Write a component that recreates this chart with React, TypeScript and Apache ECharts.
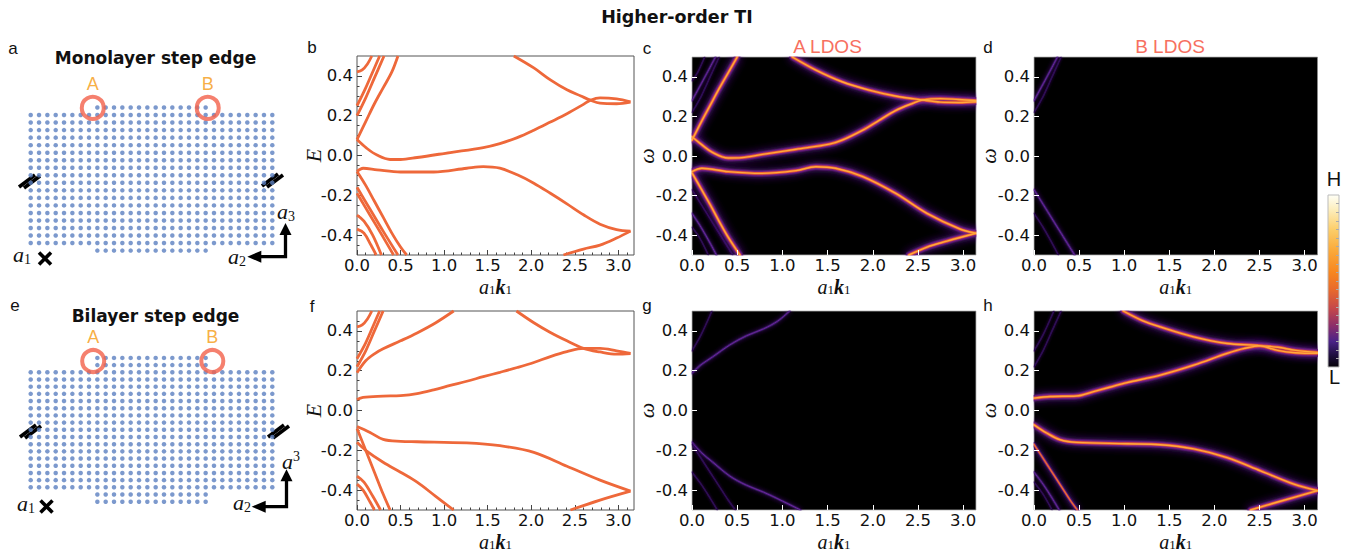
import React, { useEffect, useRef } from "react";
import * as echarts from "echarts";

type Pt = [number, number];

const SANS = "DejaVu Sans";
const LSANS = "Liberation Sans";
const SERIF = "Liberation Serif";

// ===== tick values =====
const kTickValues = [0, 0.5, 1.0, 1.5, 2.0, 2.5, 3.0];
const kMinorTickValues = [0.1, 0.2, 0.3, 0.4, 0.6, 0.7, 0.8, 0.9, 1.1, 1.2, 1.3, 1.4, 1.6, 1.7, 1.8, 1.9, 2.1, 2.2, 2.3, 2.4, 2.6, 2.7, 2.8, 2.9, 3.1];
const eTickValues = [-0.4, -0.2, 0.0, 0.2, 0.4];
const eMinorTickValues = [-0.45, -0.35, -0.3, -0.25, -0.15, -0.1, -0.05, 0.05, 0.1, 0.15, 0.25, 0.3, 0.35, 0.45];
const colorbarTickValues = [0.05, 0.1, 0.15, 0.2, 0.25, 0.3, 0.35, 0.4, 0.45, 0.5, 0.55, 0.6, 0.65, 0.7, 0.75, 0.8, 0.85, 0.9, 0.95];

// ===== lattice (panels a, e) : column / row index ranges =====
const latticeCols = [0, 29];
const stepCols = [8, 21];
const monoMainRows = [0, 17];
const monoStepRows = [-1, 18];
const biMainRows = [0, 16];
const biStepRows = [-2, -1, 17, 18];
const monoSites = [
  { name: "A", col: 7.45, row: -0.95 },
  { name: "B", col: 21.25, row: -0.95 },
];
const biSites = [
  { name: "A", col: 7.5, row: -1.57 },
  { name: "B", col: 21.8, row: -1.57 },
];

// ===== band structure, monolayer (panel b) : [a1k1, E] =====
const bandMonoUpperEdge: Pt[] = [[0, 0.08], [0.11, 0.037], [0.23, 0.002], [0.38, -0.02], [0.5, -0.02], [0.69, -0.01], [1.07, 0.015], [1.45, 0.04], [1.64, 0.06], [1.84, 0.09], [2.03, 0.127], [2.22, 0.168], [2.41, 0.21], [2.6, 0.257], [2.68, 0.278], [2.79, 0.29], [2.98, 0.285], [3.14, 0.27]];
const bandMonoUpperBranch: Pt[] = [[1.8, 0.5], [2.03, 0.44], [2.22, 0.38], [2.41, 0.33], [2.57, 0.299], [2.68, 0.278], [2.79, 0.263], [2.98, 0.26], [3.14, 0.268]];
const bandMonoLowerEdge: Pt[] = [[0, -0.08], [0.07, -0.064], [0.23, -0.072], [0.5, -0.083], [0.88, -0.083], [1.26, -0.064], [1.45, -0.056], [1.64, -0.064], [1.84, -0.097], [2.03, -0.139], [2.22, -0.19], [2.41, -0.243], [2.6, -0.298], [2.79, -0.345], [2.98, -0.372], [3.14, -0.38]];
const bandMonoLowerBranch: Pt[] = [[2.37, -0.5], [2.6, -0.47], [2.79, -0.45], [2.98, -0.415], [3.14, -0.38]];
const bandMonoBulkUp1: Pt[] = [[0, 0.08], [0.1, 0.17], [0.2, 0.26], [0.3, 0.34], [0.4, 0.42], [0.47, 0.5]];
const bandMonoBulkUp2: Pt[] = [[0, 0.2], [0.1, 0.29], [0.2, 0.39], [0.31, 0.5]];
const bandMonoBulkUp3: Pt[] = [[0, 0.25], [0.1, 0.34], [0.2, 0.44], [0.26, 0.5]];
const bandMonoBulkUp4: Pt[] = [[0, 0.42], [0.06, 0.43], [0.12, 0.46], [0.17, 0.5]];
const bandMonoBulkDown1: Pt[] = [[0, -0.08], [0.1, -0.15], [0.2, -0.23], [0.3, -0.31], [0.4, -0.39], [0.5, -0.46], [0.57, -0.5]];
const bandMonoBulkDown2: Pt[] = [[0, -0.16], [0.15, -0.27], [0.3, -0.38], [0.47, -0.5]];
const bandMonoBulkDown3: Pt[] = [[0, -0.19], [0.15, -0.3], [0.3, -0.41], [0.42, -0.5]];
const bandMonoBulkDown4: Pt[] = [[0, -0.3], [0.08, -0.33], [0.18, -0.4], [0.28, -0.5]];
const bandMonoBulkDown5: Pt[] = [[0, -0.37], [0.08, -0.39], [0.16, -0.45], [0.22, -0.5]];

// ===== band structure, bilayer (panel f) =====
const bandBiUpperEdge: Pt[] = [[0, 0.055], [0.07, 0.066], [0.3, 0.072], [0.5, 0.075], [0.69, 0.085], [0.88, 0.104], [1.07, 0.126], [1.26, 0.147], [1.45, 0.17], [1.64, 0.192], [1.84, 0.216], [2.03, 0.241], [2.22, 0.271], [2.41, 0.296], [2.6, 0.312], [2.79, 0.312], [2.98, 0.3], [3.14, 0.287]];
const bandBiUpperBranch: Pt[] = [[1.83, 0.5], [2.03, 0.441], [2.22, 0.392], [2.41, 0.35], [2.6, 0.312], [2.79, 0.294], [2.98, 0.283], [3.14, 0.286]];
const bandBiLowerEdge: Pt[] = [[0, -0.08], [0.08, -0.095], [0.15, -0.11], [0.3, -0.145], [0.5, -0.155], [0.69, -0.157], [1.26, -0.163], [1.64, -0.177], [2.03, -0.21], [2.41, -0.28], [2.79, -0.35], [3.14, -0.405]];
const bandBiLowerBranch: Pt[] = [[2.45, -0.5], [2.79, -0.45], [3.14, -0.405]];
const bandBiBulkUp1: Pt[] = [[0, 0.19], [0.1, 0.25], [0.2, 0.285], [0.3, 0.31], [0.5, 0.35], [0.69, 0.39], [0.9, 0.44], [1.11, 0.5]];
const bandBiBulkUp2: Pt[] = [[0, 0.22], [0.1, 0.3], [0.2, 0.4], [0.3, 0.5]];
const bandBiBulkUp3: Pt[] = [[0, 0.26], [0.1, 0.34], [0.2, 0.44], [0.26, 0.5]];
const bandBiBulkUp4: Pt[] = [[0, 0.42], [0.06, 0.43], [0.12, 0.46], [0.17, 0.5]];
const bandBiBulkDown1: Pt[] = [[0, -0.16], [0.1, -0.2], [0.3, -0.26], [0.5, -0.31], [0.69, -0.36], [0.9, -0.43], [1.11, -0.5]];
const bandBiBulkDown2: Pt[] = [[0, -0.09], [0.1, -0.2], [0.2, -0.31], [0.3, -0.42], [0.38, -0.5]];
const bandBiBulkDown3: Pt[] = [[0, -0.33], [0.08, -0.36], [0.18, -0.43], [0.27, -0.5]];
const bandBiBulkDown4: Pt[] = [[0, -0.37], [0.07, -0.4], [0.15, -0.46], [0.2, -0.5]];

// ===== LDOS ridges, monolayer (panels c, d) : [a1k1, omega] =====
const ldosMonoUpperEdge: Pt[] = [[0, 0.097], [0.1, 0.06], [0.22, 0.02], [0.4, -0.01], [0.55, -0.008], [0.78, 0.008], [1.15, 0.034], [1.52, 0.06], [1.66, 0.08], [1.89, 0.131], [2.07, 0.18], [2.25, 0.229], [2.44, 0.266], [2.55, 0.283], [2.75, 0.29], [2.95, 0.285], [3.1416, 0.28]];
const ldosMonoUpperBranch: Pt[] = [[1.11, 0.5], [1.37, 0.434], [1.66, 0.375], [1.96, 0.333], [2.25, 0.303], [2.55, 0.283], [2.75, 0.272], [2.95, 0.27], [3.1416, 0.274]];
const ldosMonoLowerEdge: Pt[] = [[0, -0.079], [0.11, -0.062], [0.4, -0.079], [0.77, -0.088], [1.15, -0.074], [1.37, -0.054], [1.59, -0.062], [1.89, -0.104], [2.25, -0.188], [2.6, -0.29], [2.97, -0.37], [3.1416, -0.39]];
const ldosMonoLowerBranch: Pt[] = [[2.4, -0.5], [2.6, -0.46], [2.82, -0.43], [3.1416, -0.39]];
const ldosMonoBulkUp1: Pt[] = [[0, 0.08], [0.1, 0.17], [0.2, 0.255], [0.3, 0.34], [0.4, 0.42], [0.5, 0.5]];
const ldosMonoBulkUp2: Pt[] = [[0, 0.28], [0.12, 0.38], [0.26, 0.5]];
const ldosMonoBulkUp3: Pt[] = [[0, 0.22], [0.1, 0.3], [0.2, 0.4], [0.3, 0.5]];
const ldosMonoBulkUp4: Pt[] = [[0, 0.38], [0.06, 0.42], [0.14, 0.5]];
const ldosMonoBulkDown1: Pt[] = [[0, -0.085], [0.1, -0.165], [0.2, -0.245], [0.3, -0.33], [0.4, -0.41], [0.53, -0.5]];
const ldosMonoBulkDown2: Pt[] = [[0, -0.17], [0.15, -0.28], [0.3, -0.39], [0.45, -0.5]];
const ldosMonoBulkDown3: Pt[] = [[0, -0.29], [0.1, -0.36], [0.2, -0.44], [0.27, -0.5]];
const ldosMonoBulkDown4: Pt[] = [[0, -0.36], [0.08, -0.41], [0.18, -0.5]];

// ===== LDOS ridges, bilayer (panels g, h) =====
const ldosBiUpperEdge: Pt[] = [[0, 0.062], [0.18, 0.07], [0.47, 0.073], [0.66, 0.095], [0.84, 0.117], [1.03, 0.14], [1.4, 0.178], [1.77, 0.228], [2.14, 0.287], [2.33, 0.312], [2.51, 0.325], [2.7, 0.318], [2.9, 0.302], [3.1416, 0.292]];
const ldosBiUpperBranch: Pt[] = [[0.99, 0.5], [1.2, 0.452], [1.4, 0.42], [1.77, 0.37], [2.14, 0.337], [2.51, 0.325], [2.7, 0.302], [2.9, 0.29], [3.1416, 0.287]];
const ldosBiLowerEdge: Pt[] = [[0, -0.072], [0.14, -0.113], [0.29, -0.147], [0.47, -0.16], [1.03, -0.167], [1.4, -0.172], [1.77, -0.193], [2.14, -0.237], [2.51, -0.303], [2.88, -0.37], [3.1416, -0.403]];
const ldosBiLowerBranch: Pt[] = [[2.4, -0.5], [2.7, -0.46], [3.1416, -0.403]];
const ldosBiBulkUp1: Pt[] = [[0, 0.187], [0.1, 0.23], [0.23, 0.27], [0.42, 0.33], [0.6, 0.375], [0.79, 0.41], [0.95, 0.45], [1.08, 0.5]];
const ldosBiBulkUp2: Pt[] = [[0, 0.22], [0.1, 0.3], [0.2, 0.4], [0.3, 0.5]];
const ldosBiBulkUp3: Pt[] = [[0, 0.3], [0.1, 0.38], [0.22, 0.5]];
const ldosBiBulkDown1: Pt[] = [[0, -0.16], [0.1, -0.21], [0.23, -0.26], [0.42, -0.33], [0.6, -0.375], [0.79, -0.41], [1.0, -0.455], [1.2, -0.5]];
const ldosBiBulkDown2: Pt[] = [[0, -0.17], [0.1, -0.24], [0.2, -0.31], [0.3, -0.38], [0.4, -0.45], [0.48, -0.5]];
const ldosBiBulkDown3: Pt[] = [[0, -0.31], [0.1, -0.37], [0.2, -0.44], [0.28, -0.5]];
const ldosBiBulkDown4: Pt[] = [[0, -0.36], [0.1, -0.42], [0.2, -0.5]];

// ===== LDOS intensity of each ridge per panel (0..1) =====
const panelC = [
  { pts: ldosMonoUpperEdge, level: 1 }, { pts: ldosMonoUpperBranch, level: 1 },
  { pts: ldosMonoLowerEdge, level: 1 }, { pts: ldosMonoLowerBranch, level: 1 },
  { pts: ldosMonoBulkUp1, level: 0.9 }, { pts: ldosMonoBulkDown1, level: 0.9 },
  { pts: ldosMonoBulkUp2, level: 0.2 }, { pts: ldosMonoBulkUp3, level: 0.12 }, { pts: ldosMonoBulkUp4, level: 0.15 },
  { pts: ldosMonoBulkDown2, level: 0.12 }, { pts: ldosMonoBulkDown3, level: 0.2 }, { pts: ldosMonoBulkDown4, level: 0.15 },
];
const panelD = [
  { pts: ldosMonoBulkUp2, level: 0.18 }, { pts: ldosMonoBulkUp3, level: 0.1 },
  { pts: ldosMonoBulkDown2, level: 0.18 }, { pts: ldosMonoBulkDown3, level: 0.1 },
];
const panelG = [
  { pts: ldosBiBulkUp1, level: 0.2 }, { pts: ldosBiBulkDown1, level: 0.22 },
  { pts: ldosBiBulkUp3, level: 0.08 }, { pts: ldosBiBulkDown3, level: 0.1 }, { pts: ldosBiBulkDown2, level: 0.08 },
];
const panelH = [
  { pts: ldosBiUpperEdge, level: 1 }, { pts: ldosBiUpperBranch, level: 1 },
  { pts: ldosBiLowerEdge, level: 1 }, { pts: ldosBiLowerBranch, level: 1 },
  { pts: ldosBiBulkDown2, level: 0.5 },
  { pts: ldosBiBulkUp2, level: 0.15 }, { pts: ldosBiBulkUp3, level: 0.12 },
  { pts: ldosBiBulkDown3, level: 0.2 }, { pts: ldosBiBulkDown4, level: 0.12 },
];

const bandMonoCurves = [bandMonoUpperEdge, bandMonoUpperBranch, bandMonoLowerEdge, bandMonoLowerBranch, bandMonoBulkUp1, bandMonoBulkUp2, bandMonoBulkUp3, bandMonoBulkUp4, bandMonoBulkDown1, bandMonoBulkDown2, bandMonoBulkDown3, bandMonoBulkDown4, bandMonoBulkDown5];
const bandBiCurves = [bandBiUpperEdge, bandBiUpperBranch, bandBiLowerEdge, bandBiLowerBranch, bandBiBulkUp1, bandBiBulkUp2, bandBiBulkUp3, bandBiBulkUp4, bandBiBulkDown1, bandBiBulkDown2, bandBiBulkDown3, bandBiBulkDown4];

// ===== layout =====
const L = {
  latticeA: { left: 30.7, top: 107.5, width: 241.6, height: 143.1, rowMin: -1, rowMax: 18 },
  latticeE: { left: 30.7, top: 357.9, width: 241.6, height: 143.8, rowMin: -2, rowMax: 18 },
  b: { left: 357, top: 56, width: 277, height: 199 },
  f: { left: 357, top: 311, width: 277, height: 199 },
  c: { left: 692, top: 57, width: 284, height: 198 },
  d: { left: 1034, top: 57, width: 283.5, height: 198 },
  g: { left: 692, top: 311, width: 284, height: 199 },
  h: { left: 1034, top: 311, width: 283.5, height: 199 },
  cbar: { left: 1328, top: 195, width: 11, height: 172 },
};

const BAND_COLOR = "#ee683a";
const DOT_COLOR = "#5b7fc1";
const RING_COLOR = "#f2604a";
const SITE_LABEL = "#f59a12";
const LDOS_TITLE = "#f7705f";
const fmt = (v: number) => (Math.abs(v) < 1e-9 ? 0 : v).toFixed(1);

const K_NAME = "{a|a}{s|1}{k|k}{s|1}";
const kRich = {
  a: { fontFamily: SERIF, fontStyle: "italic", fontSize: 20, lineHeight: 18, color: "#111" },
  k: { fontFamily: SERIF, fontStyle: "italic", fontWeight: "bold", fontSize: 20, lineHeight: 18, color: "#111" },
  s: { fontFamily: SERIF, fontSize: 13, lineHeight: 9, verticalAlign: "bottom", color: "#111" },
};

type Layer = { w: number; color: string; op: number; blur?: number; shadow?: string };
function glow(level: number): Layer[] {
  if (level >= 0.8)
    return [
      { w: 6.5, color: "#3a0f6a", op: 0.9, blur: 8, shadow: "rgba(80,20,140,1)" },
      { w: 4.4, color: "#7a2580", op: 1, blur: 3, shadow: "rgba(140,40,130,1)" },
      { w: 2.8, color: "#e85a30", op: 1 },
      { w: 1.4, color: "#ffa83c", op: 1 },
    ];
  if (level >= 0.45)
    return [
      { w: 4.2, color: "#3a0f6a", op: 0.9, blur: 6, shadow: "rgba(80,20,140,1)" },
      { w: 2.4, color: "#a8345f", op: 1 },
      { w: 1.1, color: "#ee7030", op: 1 },
    ];
  if (level >= 0.18) return [{ w: 2.4, color: "#3e1670", op: 0.9, blur: 4, shadow: "rgba(70,20,125,1)" }, { w: 1, color: "#6a2a98", op: 1 }];
  return [{ w: 1.6, color: "#2e0f55", op: 1, blur: 3, shadow: "rgba(55,16,95,0.9)" }];
}

function buildOption() {
  const grid: any[] = [];
  const xAxis: any[] = [];
  const yAxis: any[] = [];
  const series: any[] = [];
  const masks: any[] = [];

  const addGrid = (g: any, extra: any = {}) => {
    grid.push({ left: g.left, top: g.top, width: g.width, height: g.height, outerBoundsMode: "none", containLabel: false, ...extra });
    return grid.length - 1;
  };

  const noLine = { show: false, onZero: false };
  const xLabel = { show: true, customValues: kTickValues, formatter: fmt, fontFamily: SANS, fontSize: 16.5, lineHeight: 16, color: "#111", margin: 2 };
  const yLabel = { show: true, customValues: eTickValues, formatter: fmt, fontFamily: SANS, fontSize: 16.5, color: "#111", margin: 4 };
  const X_NAME_GAP = 23;

  // ---- lattice panels ----
  const lattice = (g: any, mainRows: number[], stepRows: number[], sites: any[]) => {
    const gi = addGrid(g, { show: false });
    xAxis.push({ type: "value", gridIndex: gi, min: 0, max: 29, show: false, axisLine: noLine });
    const xi = xAxis.length - 1;
    yAxis.push({ type: "value", gridIndex: gi, min: g.rowMin, max: g.rowMax, inverse: true, show: false, axisLine: noLine });
    const yi = yAxis.length - 1;
    const pts: number[][] = [];
    for (let r = mainRows[0]; r <= mainRows[1]; r++)
      for (let c = latticeCols[0]; c <= latticeCols[1]; c++) pts.push([c, r]);
    for (const r of stepRows)
      for (let c = stepCols[0]; c <= stepCols[1]; c++) pts.push([c, r]);
    series.push({ type: "scatter", xAxisIndex: xi, yAxisIndex: yi, data: pts, symbolSize: 4.5, itemStyle: { color: DOT_COLOR }, silent: true, z: 2 });
    series.push({
      type: "scatter", xAxisIndex: xi, yAxisIndex: yi, z: 3, silent: true,
      data: sites.map((s) => ({ name: s.name, value: [s.col, s.row] })),
      symbol: "circle", symbolSize: 22,
      itemStyle: { color: "rgba(0,0,0,0)", borderColor: RING_COLOR, borderWidth: 4 },
      label: { show: true, position: "top", distance: 2, formatter: "{b}", color: SITE_LABEL, fontSize: 18, fontFamily: LSANS },
    });
  };

  // ---- band panels ----
  const band = (g: any, curves: Pt[][]) => {
    const gi = addGrid(g, { show: true, borderColor: "#555", borderWidth: 1, backgroundColor: "#fff" });
    const max = 3.18;
    xAxis.push({
      type: "value", gridIndex: gi, min: 0, max, position: "bottom",
      axisLine: noLine, splitLine: { show: false },
      axisTick: { show: true, inside: true, length: 5, customValues: kTickValues, lineStyle: { color: "#444" } },
      axisLabel: xLabel,
      name: K_NAME, nameLocation: "middle", nameGap: X_NAME_GAP, nameMoveOverlap: false, nameTextStyle: { rich: kRich },
    });
    const xi = xAxis.length - 1;
    xAxis.push({
      type: "value", gridIndex: gi, min: 0, max, position: "bottom",
      axisLine: noLine, splitLine: { show: false },
      axisTick: { show: true, inside: true, length: 2.5, customValues: kMinorTickValues, lineStyle: { color: "#444" } },
      axisLabel: { show: false },
    });
    yAxis.push({
      type: "value", gridIndex: gi, min: -0.5, max: 0.5, position: "left",
      axisLine: noLine, splitLine: { show: false },
      axisTick: { show: true, inside: true, length: 5, customValues: eTickValues, lineStyle: { color: "#444" } },
      axisLabel: yLabel,
      name: "E", nameLocation: "middle", nameRotate: 90, nameGap: 33, nameMoveOverlap: false,
      nameTextStyle: { fontFamily: SERIF, fontStyle: "italic", fontSize: 22, color: "#111" },
    });
    const yi = yAxis.length - 1;
    yAxis.push({
      type: "value", gridIndex: gi, min: -0.5, max: 0.5, position: "left",
      axisLine: noLine, splitLine: { show: false },
      axisTick: { show: true, inside: true, length: 2.5, customValues: eMinorTickValues, lineStyle: { color: "#444" } },
      axisLabel: { show: false },
    });
    for (const c of curves) {
      series.push({ type: "line", xAxisIndex: xi, yAxisIndex: yi, data: c, smooth: 0.35, showSymbol: false, silent: true, clip: true, lineStyle: { color: BAND_COLOR, width: 2.8 } });
    }
  };

  // ---- LDOS panels ----
  const ldos = (g: any, ridges: { pts: Pt[]; level: number }[]) => {
    const gi = addGrid(g, { show: true, borderColor: "#888", borderWidth: 1, backgroundColor: "#000" });
    xAxis.push({
      type: "value", gridIndex: gi, min: 0, max: Math.PI, position: "bottom", z: 10,
      axisLine: noLine, splitLine: { show: false },
      axisTick: { show: true, inside: true, length: 5, customValues: kTickValues, lineStyle: { color: "#fff" } },
      axisLabel: xLabel,
      name: K_NAME, nameLocation: "middle", nameGap: X_NAME_GAP, nameMoveOverlap: false, nameTextStyle: { rich: kRich },
    });
    const xi = xAxis.length - 1;
    yAxis.push({
      type: "value", gridIndex: gi, min: -0.5, max: 0.5, position: "left", z: 10,
      axisLine: noLine, splitLine: { show: false },
      axisTick: { show: true, inside: true, length: 5, customValues: eTickValues, lineStyle: { color: "#fff" } },
      axisLabel: yLabel,
      name: "ω", nameLocation: "middle", nameRotate: 90, nameGap: 35, nameMoveOverlap: false,
      nameTextStyle: { fontFamily: SERIF, fontStyle: "italic", fontSize: 22, color: "#111" },
    });
    const yi = yAxis.length - 1;
    const push = (pts: Pt[], ly: Layer) => {
      const ls: any = { color: ly.color, width: ly.w, opacity: ly.op, cap: "round", join: "round" };
      if (ly.blur) { ls.shadowBlur = ly.blur; ls.shadowColor = ly.shadow; }
      series.push({ type: "line", xAxisIndex: xi, yAxisIndex: yi, data: pts, smooth: 0.35, showSymbol: false, silent: true, clip: true, lineStyle: ls });
    };
    const faint = ridges.filter((r) => r.level < 0.45);
    const bright = ridges.filter((r) => r.level >= 0.45);
    for (const r of faint) for (const ly of glow(r.level)) push(r.pts, ly);
    const maxLayers = 4;
    for (let i = 0; i < maxLayers; i++) {
      for (const r of bright) {
        const ls = glow(r.level);
        const j = i - (maxLayers - ls.length);
        if (j >= 0) push(r.pts, ls[j]);
      }
    }
    // white frame that hides glow spilling past the panel edge
    const m = 5;
    const wh = { fill: "#fff" };
    masks.push(
      { type: "rect", silent: true, z: 5, shape: { x: g.left - m - 0.5, y: g.top - m - 0.5, width: g.width + 2 * m + 1, height: m }, style: wh },
      { type: "rect", silent: true, z: 5, shape: { x: g.left - m - 0.5, y: g.top + g.height + 0.5, width: g.width + 2 * m + 1, height: m }, style: wh },
      { type: "rect", silent: true, z: 5, shape: { x: g.left - m - 0.5, y: g.top - m, width: m, height: g.height + 2 * m }, style: wh },
      { type: "rect", silent: true, z: 5, shape: { x: g.left + g.width + 0.5, y: g.top - m, width: m, height: g.height + 2 * m }, style: wh },
    );
  };

  lattice(L.latticeA, monoMainRows, monoStepRows, monoSites);
  band(L.b, bandMonoCurves);
  ldos(L.c, panelC);
  ldos(L.d, panelD);
  lattice(L.latticeE, biMainRows, biStepRows, biSites);
  band(L.f, bandBiCurves);
  ldos(L.g, panelG);
  ldos(L.h, panelH);

  // ---- colour bar ----
  const cbGrad = new echarts.graphic.LinearGradient(0, 0, 0, 1, [
    { offset: 0, color: "#fffff6" },
    { offset: 0.08, color: "#fdefc0" },
    { offset: 0.2, color: "#fcce6a" },
    { offset: 0.32, color: "#fbaa3a" },
    { offset: 0.45, color: "#f7861f" },
    { offset: 0.55, color: "#e86a2c" },
    { offset: 0.66, color: "#c5484a" },
    { offset: 0.76, color: "#8c2f6a" },
    { offset: 0.85, color: "#4b2388" },
    { offset: 0.93, color: "#1f0f40" },
    { offset: 1, color: "#050208" },
  ]);
  const cgi = addGrid(L.cbar, { show: true, borderColor: "#bbb", borderWidth: 1, backgroundColor: cbGrad });
  xAxis.push({ type: "value", gridIndex: cgi, min: 0, max: 1, show: false, axisLine: noLine });
  yAxis.push({
    type: "value", gridIndex: cgi, min: 0, max: 1, position: "right",
    axisLine: noLine, splitLine: { show: false }, axisLabel: { show: false },
    axisTick: { show: true, inside: true, length: 3, customValues: colorbarTickValues, lineStyle: { color: "#aaa" } },
  });

  // ---- decorations ----
  const txt = (x: number, y: number, text: string, font: string, fill = "#111", align = "center") => ({
    type: "text", x, y, silent: true, z: 20,
    style: { text, font, fill, textAlign: align, textVerticalAlign: "middle" },
  });
  const mathRich = {
    i: { fontFamily: SERIF, fontStyle: "italic", fontSize: 22, lineHeight: 24, fill: "#111" },
    s: { fontFamily: SERIF, fontSize: 14, lineHeight: 12, verticalAlign: "bottom", fill: "#111" },
    p: { fontFamily: SERIF, fontSize: 14, lineHeight: 12, verticalAlign: "top", fill: "#111" },
  };
  const math = (x: number, y: number, text: string) => ({
    type: "text", x, y, silent: true, z: 20,
    style: { text, rich: mathRich, textAlign: "left", textVerticalAlign: "middle", fill: "#111" },
  });
  const blk = { stroke: "#000", lineWidth: 3.3 };
  const cross = (cx: number, cy: number) => [
    { type: "line", silent: true, shape: { x1: cx - 6, y1: cy - 6, x2: cx + 6, y2: cy + 6 }, style: { stroke: "#000", lineWidth: 3.6 } },
    { type: "line", silent: true, shape: { x1: cx - 6, y1: cy + 6, x2: cx + 6, y2: cy - 6 }, style: { stroke: "#000", lineWidth: 3.6 } },
  ];
  const brk = (x0: number, y0: number) => [
    { type: "line", silent: true, shape: { x1: x0, y1: y0, x2: x0 + 16, y2: y0 - 12 }, style: { stroke: "#000", lineWidth: 3.6 } },
    { type: "line", silent: true, shape: { x1: x0 + 5, y1: y0 + 1, x2: x0 + 21, y2: y0 - 11 }, style: { stroke: "#000", lineWidth: 3.6 } },
  ];
  const arrows = (vx: number, topTip: number, hy: number, leftTip: number) => [
    { type: "polyline", silent: true, shape: { points: [[vx, topTip + 10], [vx, hy], [leftTip + 13, hy]] }, style: { ...blk, fill: null, lineJoin: "miter" } },
    { type: "polygon", silent: true, shape: { points: [[vx - 6, topTip + 12], [vx + 6, topTip + 12], [vx, topTip]] }, style: { fill: "#000" } },
    { type: "polygon", silent: true, shape: { points: [[leftTip + 14, hy - 6], [leftTip + 14, hy + 6], [leftTip, hy]] }, style: { fill: "#000" } },
  ];

  const graphic: any[] = [
    ...masks,
    txt(155.5, 57.5, "Monolayer step edge", `bold 17px "${SANS}"`),
    txt(155.5, 315.5, "Bilayer step edge", `bold 17px "${SANS}"`),
    txt(13, 48, "a", `17px "${LSANS}"`),
    txt(312, 47, "b", `17px "${LSANS}"`),
    txt(647, 48, "c", `17px "${LSANS}"`),
    txt(988, 47, "d", `17px "${LSANS}"`),
    txt(15, 305, "e", `17px "${LSANS}"`),
    txt(312, 306, "f", `17px "${LSANS}"`),
    txt(647, 305, "g", `17px "${LSANS}"`),
    txt(988, 305, "h", `17px "${LSANS}"`),
    txt(827.5, 46, "A LDOS", `19px "${LSANS}"`, LDOS_TITLE),
    txt(1170, 46, "B LDOS", `19px "${LSANS}"`, LDOS_TITLE),
    txt(1334, 179, "H", `20px "${LSANS}"`),
    txt(1334.5, 377, "L", `20px "${LSANS}"`),
    math(13, 254, "{i|a}{s|1}"),
    math(228, 256, "{i|a}{s|2}"),
    math(277, 211, "{i|a}{s|3}"),
    math(17, 503, "{i|a}{s|1}"),
    math(233, 502, "{i|a}{s|2}"),
    math(282, 461, "{i|a}{p|3}"),
    ...cross(45, 258.5),
    ...cross(46.5, 506.5),
    ...brk(19, 187),
    ...brk(262, 186),
    ...brk(20, 437),
    ...brk(268, 437),
    ...arrows(285.5, 223, 256.7, 247.3),
    ...arrows(286.5, 469.3, 506.7, 251.7),
  ];

  return {
    animation: false,
    backgroundColor: "#fff",
    title: {
      text: "Higher-order TI", left: "center", top: 8, padding: 0,
      textStyle: { fontFamily: SANS, fontWeight: "bold", fontSize: 17.5, color: "#111" },
    },
    grid, xAxis, yAxis, series, graphic,
  };
}

export default function App() {
  const ref = useRef<HTMLDivElement>(null);
  useEffect(() => {
    const chart = echarts.init(ref.current as HTMLDivElement, null, { renderer: "svg" });
    chart.setOption(buildOption() as any);
    return () => chart.dispose();
  }, []);
  return (
    <div
      ref={ref}
      style={{ position: "absolute", left: 0, top: 0, width: 1354, height: 556, background: "#fff" }}
    />
  );
}
